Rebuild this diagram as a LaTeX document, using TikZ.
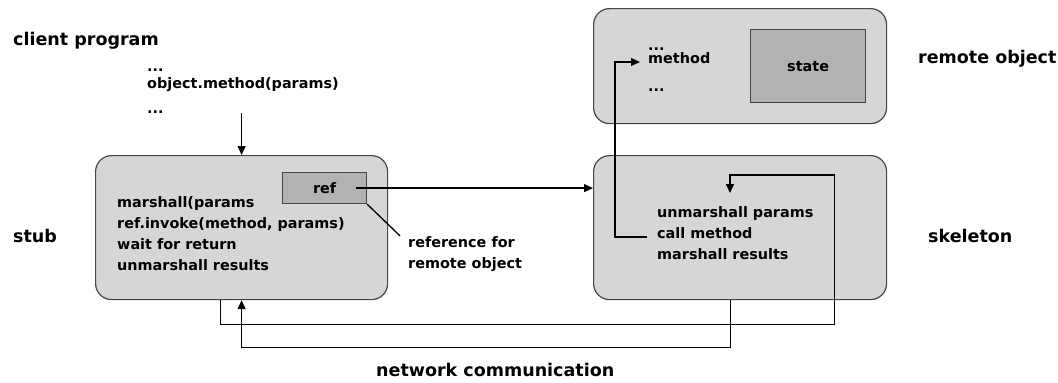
\documentclass[tikz,border=0pt]{standalone}
\usepackage{fontspec}
\setmainfont{DejaVu Sans}
\usetikzlibrary{arrows.meta}
\definecolor{boxfill}{RGB}{214,214,214}
\definecolor{reffill}{RGB}{178,178,178}
\definecolor{boxline}{RGB}{70,70,70}
\newcommand\codefont{\fontsize{14.4bp}{21bp}\selectfont\bfseries}
\newcommand\captionfont{\fontsize{17.5bp}{21bp}\selectfont\bfseries}

\begin{document}
\begin{tikzpicture}[x=1bp,y=-1bp,>={Triangle[length=9bp,width=8bp]}]
\tikzset{
	outerbox/.style={draw=boxline,fill=boxfill,line width=1.2bp,rounded corners=16bp,
		anchor=north west,inner sep=0pt},
	innerbox/.style={draw=boxline,fill=reffill,line width=1.2bp,anchor=north west,
		inner sep=0pt,font=\codefont},
	code/.style={anchor=base west,align=left,inner sep=0pt,font=\codefont},
	caption/.style={anchor=base west,inner sep=0pt,font=\captionfont},
	wire/.style={line width=1.3bp}
}
\useasboundingbox (0,0) rectangle (1058,382);
\node[outerbox,minimum width=292bp,minimum height=144bp](stub) at (95,155) {};
\node[innerbox,minimum width=84bp,minimum height=31bp](ref) at (282,172) {ref};
\node[outerbox,minimum width=293bp,minimum height=144bp](skel) at (593,155) {};
\node[outerbox,minimum width=293bp,minimum height=115bp](remote) at (593,8) {};
\node[innerbox,minimum width=115bp,minimum height=73bp](state) at (750,29) {state};

\node[caption](clientlbl) at (13,45) {client program};
\node[caption](stublbl) at (13,242) {stub};
\node[caption](skellbl) at (928,242) {skeleton};
\node[caption](remotelbl) at (918,63) {remote object};
\node[caption](netlbl) at (376,376) {network communication};

\node[code](call) at (147,113) {...\\[-4bp]object.method(params)\\[4bp]...};
\node[code](stubtxt) at (117,270)
	{marshall(params\\ref.invoke(method, params)\\wait for return\\unmarshall results};
\node[code](refnote) at (408,268) {reference for\\remote object};
\node[code](skeltxt) at (657,259) {unmarshall params\\call method\\marshall results};
\node[code](methtxt) at (648,91) {...\\[-8bp]method\\[7bp]...};
\coordinate (callend) at (647,237);
\coordinate (methin) at (640,62);
\coordinate (unmin) at (730,193);

\draw[wire,->] (call.south -| stub.north) -- (stub.north);
\draw[wire,->] ([xshift=-11bp]ref.east) -- (ref.east -| skel.west);
\draw[wire] (ref.south east) -- ([xshift=-8bp]refnote.north west);
\draw[wire,->] (callend) -- ++(-32,0) |- (methin);
\draw[wire,->] ([xshift=-21bp]stub.south) -- ++(0,24)
	-| ([xshift=94.5bp,yshift=-20bp]skel.north) -| (unmin);
\draw[wire,->] ([xshift=-9.5bp]skel.south) -- ++(0,47) -| (stub.south);
\end{tikzpicture}
\end{document}
